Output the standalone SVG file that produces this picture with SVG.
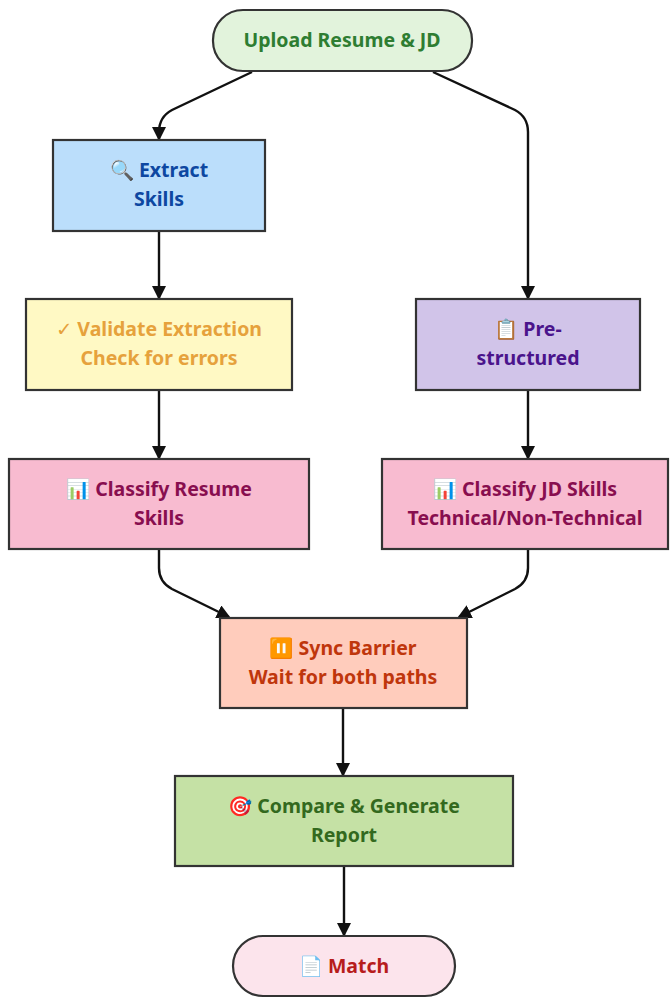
<svg xmlns="http://www.w3.org/2000/svg" width="670" height="1000" viewBox="0 0 670 1000">
<defs>
<marker id="arr" markerWidth="14" markerHeight="14" refX="12" refY="7" orient="auto" markerUnits="userSpaceOnUse" viewBox="0 0 14 14">
<path d="M0,0 L14,7 L0,14 z" fill="#111"/>
</marker>
</defs>
<style>
.n{stroke:#333;stroke-width:2.2}
.t{font-family:"Noto Sans","Open Sans","DejaVu Sans",sans-serif;font-weight:bold;font-size:19.5px;text-anchor:middle}
.e{fill:none;stroke:#111;stroke-width:2.4}
</style>
<rect width="670" height="1000" fill="#fff"/>
<g id="connectors">
<path class="e" marker-end="url(#arr)" d="M252,72 L172,110 Q159,117 159,132 L159,139"/>
<path class="e" marker-end="url(#arr)" d="M433,72 L515,110 Q528,117 528,132 L528,298"/>
<path class="e" marker-end="url(#arr)" d="M159,231 L159,298"/>
<path class="e" marker-end="url(#arr)" d="M159,390 L159,458"/>
<path class="e" marker-end="url(#arr)" d="M528,390 L528,458"/>
<path class="e" marker-end="url(#arr)" d="M159,549 L159,568 Q159,582 172,589 L229,617"/>
<path class="e" marker-end="url(#arr)" d="M528,549 L528,568 Q528,582 515,589 L459,617"/>
<path class="e" marker-end="url(#arr)" d="M343,708 L343,775"/>
<path class="e" marker-end="url(#arr)" d="M344,866 L344,935"/>
</g>
<g id="upload">
<rect class="n" x="213" y="10" width="259" height="61" rx="30" fill="#e2f3dc"/>
<text class="t" x="342" y="47" fill="#2e7d32">Upload Resume &amp; JD</text>
</g>
<g id="extract">
<rect class="n" x="53" y="140" width="212" height="91" fill="#bbdefb"/>
<text class="t" x="159" y="177" fill="#0d47a1">🔍 Extract</text>
<text class="t" x="159" y="206" fill="#0d47a1">Skills</text>
</g>
<g id="validate">
<rect class="n" x="26" y="299" width="266" height="91" fill="#fff9c4"/>
<text class="t" x="159" y="336" fill="#e6a23c">✓ Validate Extraction</text>
<text class="t" x="159" y="365" fill="#e6a23c">Check for errors</text>
</g>
<g id="prestructured">
<rect class="n" x="416" y="299" width="224" height="91" fill="#d1c4e9"/>
<text class="t" x="528" y="336" fill="#4a148c">📋 Pre-</text>
<text class="t" x="528" y="365" fill="#4a148c">structured</text>
</g>
<g id="classifyResume">
<rect class="n" x="9" y="459" width="300" height="90" fill="#f8bbd0"/>
<text class="t" x="159" y="496" fill="#880e4f">📊 Classify Resume</text>
<text class="t" x="159" y="525" fill="#880e4f">Skills</text>
</g>
<g id="classifyJD">
<rect class="n" x="382" y="459" width="286" height="90" fill="#f8bbd0"/>
<text class="t" x="525" y="496" fill="#880e4f">📊 Classify JD Skills</text>
<text class="t" x="525" y="525" fill="#880e4f">Technical/Non-Technical</text>
</g>
<g id="sync">
<rect class="n" x="220" y="618" width="247" height="90" fill="#ffccbc"/>
<text class="t" x="343" y="655" fill="#bf360c">⏸️ Sync Barrier</text>
<text class="t" x="343" y="684" fill="#bf360c">Wait for both paths</text>
</g>
<g id="compare">
<rect class="n" x="175" y="776" width="338" height="90" fill="#c5e1a5"/>
<text class="t" x="344" y="813" fill="#33691e">🎯 Compare &amp; Generate</text>
<text class="t" x="344" y="842" fill="#33691e">Report</text>
</g>
<g id="match">
<rect class="n" x="233" y="936" width="222" height="60" rx="30" fill="#fce4ec"/>
<text class="t" x="344" y="973" fill="#b71c1c">📄 Match</text>
</g>
</svg>
